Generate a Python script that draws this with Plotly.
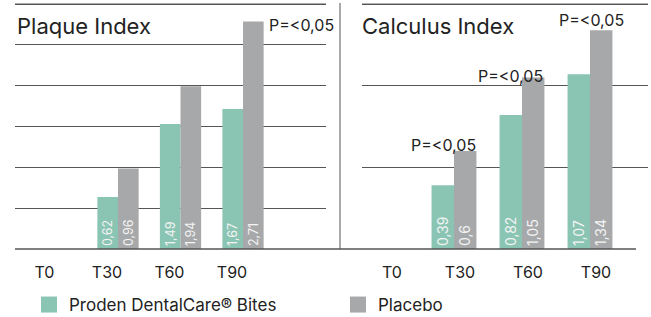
import plotly.graph_objects as go

categories = ["T0", "T30", "T60", "T90"]

plaque_proden = [None, 0.62, 1.49, 1.67]
plaque_placebo = [None, 0.96, 1.94, 2.71]
plaque_proden_labels = ["", "0,62", "1,49", "1,67"]
plaque_placebo_labels = ["", "0,96", "1,94", "2,71"]

calculus_proden = [None, 0.39, 0.82, 1.07]
calculus_placebo = [None, 0.60, 1.05, 1.34]
calculus_proden_labels = ["", "0,39", "0,82", "1,07"]
calculus_placebo_labels = ["", "0,6", "1,05", "1,34"]

series_names = ["Proden DentalCare® Bites", "Placebo"]
p_label = "P=<0,05"

TEAL = "#8AC4B3"
GREY = "#A7A8AA"
FONT = "Inter"
W, H = 651, 317

def px_x(p):
    return p / W

def px_y(p):
    return 1 - p / H

fig = go.Figure()

def add_bars(x_vals, y_vals, labels, color, xa, ya):
    fig.add_trace(go.Bar(
        x=x_vals, y=y_vals, text=labels, marker_color=color,
        marker_line_width=0, textposition="inside", insidetextanchor="start",
        textangle=-90, textfont=dict(color="#F4F4F4", size=17, family=FONT),
        xaxis=xa, yaxis=ya, showlegend=False, cliponaxis=False,
        hoverinfo="skip"))

add_bars(categories, plaque_proden, plaque_proden_labels, TEAL, "x", "y")
add_bars(categories, plaque_placebo, plaque_placebo_labels, GREY, "x", "y")
add_bars(categories, calculus_proden, calculus_proden_labels, TEAL, "x2", "y2")
add_bars(categories, calculus_placebo, calculus_placebo_labels, GREY, "x2", "y2")

# legend proxies
for name, color in zip(series_names, [TEAL, GREY]):
    fig.add_trace(go.Scatter(
        x=[None], y=[None], mode="markers", name=name,
        marker=dict(symbol="square", size=16, color=color),
        xaxis="x", yaxis="y"))

# plot area from y=1px to y=249px; top gridline sits at y=4px
ydom = [px_y(249), px_y(1)]
plaque_grid_top = 2.92
plaque_top = plaque_grid_top * 248 / 245
calc_grid_top = 1.5
calc_top = calc_grid_top * 248 / 245

axis_common = dict(showgrid=False, zeroline=False, showline=False, ticks="",
                   tickfont=dict(family=FONT, size=16, color="#222"))

fig.update_layout(
    width=W, height=H,
    margin=dict(l=0, r=0, t=0, b=0, autoexpand=False),
    paper_bgcolor="white", plot_bgcolor="rgba(0,0,0,0)",
    barmode="group", bargap=0.34,
    font=dict(family=FONT, color="#222"),
    xaxis=dict(domain=[px_x(15), px_x(326)], range=[-0.648, 4.328],
               type="category", anchor="y", ticklabelshift=-11,
               ticklabelstandoff=12, **axis_common),
    yaxis=dict(domain=ydom, range=[0, plaque_top], tick0=0,
               dtick=plaque_grid_top / 6,
               showgrid=True, gridcolor="#555", gridwidth=1, zeroline=False,
               showticklabels=False, ticks="", anchor="x"),
    xaxis2=dict(domain=[px_x(362), px_x(648)], range=[-0.353, 3.853],
                type="category", anchor="y2", ticklabelshift=6,
                ticklabelstandoff=12, **axis_common),
    yaxis2=dict(domain=ydom, range=[0, calc_top], tick0=0, dtick=0.5,
                showgrid=True, gridcolor="#555", gridwidth=1, zeroline=False,
                showticklabels=False, ticks="", anchor="x2"),
    showlegend=True,
    legend=dict(orientation="h", x=px_x(29), y=px_y(305), yanchor="middle",
                xanchor="left", entrywidth=264, entrywidthmode="pixels",
                font=dict(family=FONT, size=17, color="#222"),
                bgcolor="rgba(0,0,0,0)"),
)

shapes = [
    dict(type="line", xref="paper", yref="paper", x0=px_x(15), x1=px_x(636),
         y0=px_y(249), y1=px_y(249), line=dict(color="#555", width=1.5)),
    dict(type="line", xref="paper", yref="paper", x0=px_x(340), x1=px_x(340),
         y0=px_y(3), y1=px_y(249), line=dict(color="#555", width=1)),
    dict(type="line", xref="paper", yref="paper", x0=px_x(15), x1=px_x(326),
         y0=px_y(4), y1=px_y(4), line=dict(color="#555", width=1), layer="below"),
    dict(type="line", xref="paper", yref="paper", x0=px_x(362), x1=px_x(648),
         y0=px_y(4), y1=px_y(4), line=dict(color="#666", width=1), layer="below"),
]
fig.update_layout(shapes=shapes)

annotations = [
    dict(text="Plaque Index", xref="paper", yref="paper", x=px_x(15), y=px_y(26),
         xanchor="left", yanchor="middle", showarrow=False,
         font=dict(family=FONT, size=22, color="#222")),
    dict(text="Calculus Index", xref="paper", yref="paper", x=px_x(360), y=px_y(26),
         xanchor="left", yanchor="middle", showarrow=False,
         font=dict(family=FONT, size=22, color="#222")),
    dict(text=p_label, xref="x", yref="y", x="T90", y=plaque_placebo[3],
         xanchor="left", yanchor="middle", xshift=24, yshift=-3, showarrow=False,
         font=dict(family=FONT, size=16, color="#222")),
]
for cat, val, xs, ys in zip(categories[1:], calculus_placebo[1:], [-11, -12, 1], [-6, -10, -2]):
    annotations.append(dict(text=p_label, xref="x2", yref="y2", x=cat, y=val,
                            xanchor="center", yanchor="bottom", xshift=xs, yshift=ys,
                            showarrow=False,
                            font=dict(family=FONT, size=16, color="#222")))
fig.update_layout(annotations=annotations)

fig.write_html("out.html", config={"displayModeBar": False},
               post_script="document.body.style.margin='0';")
